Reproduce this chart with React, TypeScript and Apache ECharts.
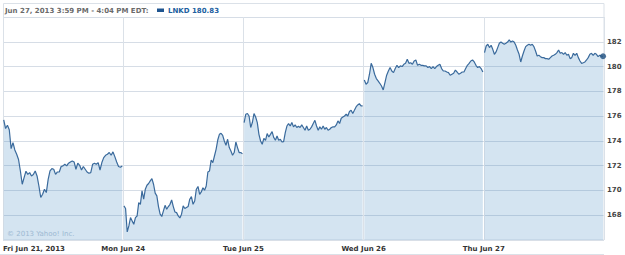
import React, { useEffect, useRef } from "react";
import * as echarts from "echarts";

const dayLabels = ["Fri Jun 21, 2013", "Mon Jun 24", "Tue Jun 25", "Wed Jun 26", "Thu Jun 27"];
const yTicks = [168, 170, 172, 174, 176, 178, 180, 182];
const headerText = "Jun 27, 2013 3:59 PM - 4:04 PM EDT:";
const ticker = "LNKD";

const fri = [175.69,175.0,175.26,174.9,173.38,173.86,173.27,172.92,172.5,171.57,170.5,171.04,171.55,171.3,171.44,171.17,171.28,171.57,171.17,170.36,169.43,169.69,170.1,169.83,170.9,171.57,171.76,171.71,171.3,171.49,171.49,171.93,171.98,172.11,171.98,172.2,172.3,172.38,172.3,171.71,172.2,172.03,171.65,171.93,171.71,171.49,171.39,171.44,172.11,172.2,172.11,172.25,171.65,172.25,172.65,172.84,172.92,173.06,172.84,173.11,172.73,172.3,171.93,171.87,171.98];
const mon = [168.75,168.54,166.65,167.14,167.81,167.54,167.27,167.81,167.94,169.02,168.88,169.96,169.29,170.1,170.42,170.56,170.77,170.96,170.5,169.78,169.56,168.7,168.08,167.9,168.35,168.8,168.48,168.7,168.88,169.23,168.7,168.26,168.21,167.94,167.78,168.08,168.75,168.54,168.62,168.7,169.29,169.51,168.88,169.15,170.1,170.32,169.69,169.88,170.21,170.02,170.36,171.49,171.57,172.46,172.25,172.78,173.32,174.07,174.53,174.61,174.45,173.99,173.65,174.13,173.46,173.19,172.84,173.06,173.91,173.46,173.06,173.06,172.95];
const tue = [175.48,176.15,176.21,176.01,175.08,175.48,176.21,175.93,175.48,174.53,173.99,173.73,174.21,174.05,174.59,174.32,174.53,174.75,174.27,174.05,174.4,174.05,174.13,173.91,173.94,174.67,175.2,175.4,175.2,175.48,175.13,175.29,175.08,175.18,175.08,175.29,175.08,174.86,175.2,174.86,174.94,175.13,175.4,175.66,175.2,174.86,175.13,174.94,175.2,174.94,175.08,174.86,174.94,175.08,175.13,175.13,175.29,175.61,175.4,175.83,175.93,176.01,176.15,176.01,176.37,176.47,176.21,176.47,176.74,176.9,177.0,176.82,176.82];
const wed = [178.92,178.57,178.71,179.38,180.26,179.92,179.38,179.03,178.84,178.65,178.43,178.11,178.71,179.3,179.64,179.92,179.64,179.51,179.84,180.1,179.92,180.05,180.0,180.18,180.26,180.59,180.26,180.31,180.18,180.45,180.53,180.1,180.18,180.1,180.1,180.05,180.05,179.92,180.0,179.84,180.0,179.84,180.0,180.1,180.18,179.84,179.64,179.64,179.56,179.51,179.3,179.38,179.46,179.72,179.56,179.38,179.46,179.56,179.56,179.84,180.1,180.26,180.45,180.53,180.37,180.1,179.92,180.0,179.84,179.56];
const thu = [181.13,181.66,181.8,181.53,181.72,181.39,180.99,181.18,181.53,181.88,181.98,181.88,181.8,181.88,181.98,182.15,181.98,182.06,181.98,181.72,181.34,180.99,180.37,180.85,181.26,181.61,181.72,181.8,181.72,181.8,181.61,181.26,180.85,180.91,180.8,180.72,180.72,180.64,180.64,180.59,180.72,180.85,180.91,180.99,181.13,181.34,181.07,181.13,180.99,181.13,180.91,180.99,180.64,180.72,181.07,180.91,181.07,180.72,180.45,180.26,180.31,180.37,180.53,180.72,180.99,181.07,180.91,181.07,180.99,180.8,180.91,180.85,180.83];

const days = [fri, mon, tue, wed, thu];

const FONT = "DejaVu Sans";

export default function App() {
  const ref = useRef<HTMLDivElement>(null);
  useEffect(() => {
    if (!ref.current) return;
    const chart = echarts.init(ref.current, null, { renderer: "svg" });
    const data: any[] = [];
    const dStart = 0.006;
    const dEnd = 0.992;
    days.forEach((vals, d) => {
      const n = vals.length;
      vals.forEach((v, i) => {
        data.push([d + dStart + ((dEnd - dStart) * i) / (n - 1), v]);
      });
      if (d < days.length - 1) data.push([d + 0.999, "-"]);
    });
    const last = data[data.length - 1];
    const lastVal = thu[thu.length - 1];

    chart.setOption({
      animation: false,
      grid: { left: 3, right: 21, top: 17, bottom: 15, containLabel: false },
      xAxis: {
        type: "value",
        min: 0,
        max: 5,
        interval: 1,
        axisLine: { show: false },
        axisTick: { show: false },
        splitLine: { show: true, lineStyle: { color: "#dbe1e8", width: 1 } },
        axisLabel: {
          margin: 5,
          color: "#333",
          fontFamily: FONT,
          fontWeight: "bold",
          fontSize: 7,
          alignMinLabel: "left",
          formatter: (v: number) => (dayLabels[v] !== undefined ? dayLabels[v] : ""),
        },
      },
      yAxis: {
        type: "value",
        position: "right",
        min: 166,
        max: 184,
        interval: 2,
        axisLine: { show: false },
        axisTick: { show: false },
        splitLine: { show: true, lineStyle: { color: "#d6dde6", width: 1 } },
        axisLabel: {
          margin: 3,
          color: "#444",
          fontFamily: FONT,
          fontWeight: "bold",
          fontSize: 7,
          formatter: (v: number) => (yTicks.indexOf(v) >= 0 ? String(v) : ""),
        },
      },
      series: [
        {
          type: "line",
          data,
          symbol: "none",
          connectNulls: false,
          lineStyle: { color: "#3a6a9c", width: 1.2 },
          areaStyle: { color: "rgba(60,130,190,0.22)", origin: "start", opacity: 1 },
          z: 2,
        },
        {
          type: "scatter",
          data: [last],
          symbol: "circle",
          symbolSize: 6,
          itemStyle: { color: "#1e4f80" },
          z: 3,
        },
      ],
      graphic: [
        {
          type: "rect",
          shape: { x: 3.5, y: 3.5, width: 600.5, height: 236.5 },
          style: { fill: "none", stroke: "#dbe1e8", lineWidth: 1 },
          silent: true,
          z: 1,
        },
        {
          type: "line",
          shape: { x1: 0, y1: 254.5, x2: 604, y2: 254.5 },
          style: { stroke: "#dbe1e8", lineWidth: 1 },
          silent: true,
        },
        {
          type: "text",
          x: 5,
          y: 10.5,
          style: {
            text: headerText,
            fill: "#6a6a6a",
            font: `bold 7px "${FONT}"`,
            verticalAlign: "middle",
          },
        },
        {
          type: "rect",
          shape: { x: 157, y: 8.5, width: 7, height: 3.5 },
          style: { fill: "#1f5590" },
        },
        {
          type: "text",
          x: 168,
          y: 10.5,
          style: {
            text: `${ticker} ${lastVal.toFixed(2)}`,
            fill: "#2160a0",
            font: `bold 7px "${FONT}"`,
            verticalAlign: "middle",
          },
        },
        {
          type: "text",
          x: 7,
          y: 234,
          style: {
            text: "© 2013 Yahoo! Inc.",
            fill: "#b9c9d8",
            font: `7px "${FONT}"`,
            verticalAlign: "middle",
          },
        },
      ],
    });
    return () => chart.dispose();
  }, []);
  return (
    <div
      ref={ref}
      style={{ position: "absolute", left: 0, top: 0, width: 625, height: 255, background: "#fff" }}
    />
  );
}
